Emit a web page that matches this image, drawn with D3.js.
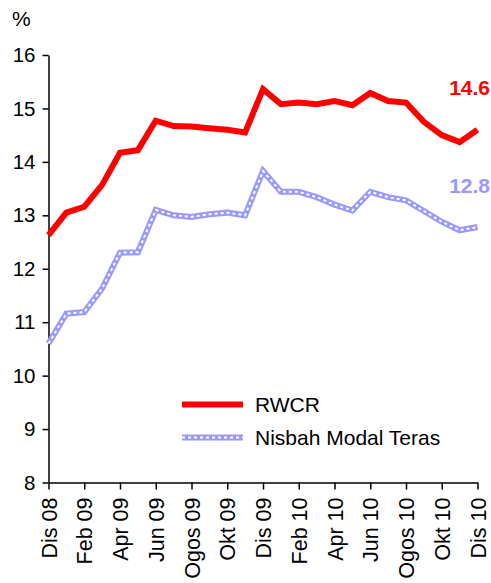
<!DOCTYPE html>
<html>
<head>
<meta charset="utf-8">
<script src="https://cdn.jsdelivr.net/npm/d3@7"></script>
<style>
  html, body { margin: 0; padding: 0; background: #fff; }
  svg { display: block; font-family: "Liberation Sans", Arial, sans-serif; }
</style>
</head>
<body>
<svg id="chart" width="491" height="583"></svg>
<script>
const months = ["Dis 08","Jan 09","Feb 09","Mac 09","Apr 09","Mei 09","Jun 09","Jul 09","Ogos 09","Sep 09","Okt 09","Nov 09",
                "Dis 09","Jan 10","Feb 10","Mac 10","Apr 10","Mei 10","Jun 10","Jul 10","Ogos 10","Sep 10","Okt 10","Nov 10","Dis 10"];
const rwcr = [12.63,13.05,13.16,13.57,14.17,14.22,14.77,14.67,14.66,14.63,14.60,14.55,
              15.36,15.08,15.11,15.08,15.14,15.06,15.29,15.14,15.11,14.75,14.50,14.37,14.60];
const core = [10.60,11.16,11.19,11.63,12.30,12.31,13.10,13.00,12.97,13.02,13.05,13.00,
              13.83,13.44,13.44,13.34,13.20,13.09,13.44,13.34,13.28,13.08,12.88,12.72,12.78];
const tickLabels = ["Dis 08","Feb 09","Apr 09","Jun 09","Ogos 09","Okt 09","Dis 09","Feb 10","Apr 10","Jun 10","Ogos 10","Okt 10","Dis 10"];
const yTicks = [8,9,10,11,12,13,14,15,16];
const seriesNames = ["RWCR","Nisbah Modal Teras"];
const endLabels = ["14.6","12.8"];

const RED = "#ff0000", LAV = "#9999ff";
const svg = d3.select("#chart");

const x = d3.scalePoint().domain(months).range([48.5, 477.5]);
const y = d3.scaleLinear().domain([8, 16]).range([482.5, 55]);

// axes
const yAxis = svg.append("g").attr("transform", "translate(48.5,0)")
  .call(d3.axisLeft(y).tickValues(yTicks).tickSize(6).tickSizeOuter(0).tickPadding(7));
yAxis.select(".domain").attr("stroke", "#000").attr("stroke-width", 1.5);
yAxis.selectAll(".tick line").attr("stroke", "#000").attr("stroke-width", 1.5);
yAxis.selectAll(".tick text").attr("font-size", "20.5px").attr("fill", "#000")
  .attr("font-family", "Liberation Sans, Arial, sans-serif");

const xAxis = svg.append("g").attr("transform", "translate(0,482.5)")
  .call(d3.axisBottom(x).tickValues(tickLabels).tickSize(7).tickSizeOuter(0));
xAxis.select(".domain").attr("stroke", "#000").attr("stroke-width", 1.5);
xAxis.selectAll(".tick line").attr("stroke", "#000").attr("stroke-width", 1.5);
xAxis.selectAll(".tick text")
  .attr("font-size", "21.5px").attr("fill", "#000")
  .attr("font-family", "Liberation Sans, Arial, sans-serif")
  .attr("transform", "rotate(-90)")
  .attr("text-anchor", "end")
  .attr("x", -15).attr("y", 0).attr("dy", "0.35em");

// "%" label
svg.append("text").attr("x", 12).attr("y", 26).attr("font-size", "21px").text("%");

// lines
const line = d3.line().x((d, i) => x(months[i])).y(d => y(d));

svg.append("path").datum(core).attr("d", line).attr("fill", "none")
  .attr("stroke", LAV).attr("stroke-width", 6).attr("stroke-linejoin", "miter");
svg.append("path").datum(core).attr("d", line).attr("fill", "none")
  .attr("stroke", "#fff").attr("stroke-width", 2).attr("stroke-dasharray", "3,3");

svg.append("path").datum(rwcr).attr("d", line).attr("fill", "none")
  .attr("stroke", RED).attr("stroke-width", 6).attr("stroke-linejoin", "miter");

// end labels
svg.append("text").attr("x", 490).attr("y", 95).attr("text-anchor", "end")
  .attr("font-size", "21px").attr("font-weight", "bold").attr("fill", RED).text(endLabels[0]);
svg.append("text").attr("x", 490).attr("y", 193).attr("text-anchor", "end")
  .attr("font-size", "21px").attr("font-weight", "bold").attr("fill", LAV).text(endLabels[1]);

// legend
const lg = svg.append("g");
lg.append("line").attr("x1", 182).attr("x2", 243).attr("y1", 404.5).attr("y2", 404.5)
  .attr("stroke", RED).attr("stroke-width", 6);
lg.append("line").attr("x1", 182).attr("x2", 243).attr("y1", 437.5).attr("y2", 437.5)
  .attr("stroke", LAV).attr("stroke-width", 6);
lg.append("line").attr("x1", 182).attr("x2", 243).attr("y1", 437.5).attr("y2", 437.5)
  .attr("stroke", "#fff").attr("stroke-width", 2).attr("stroke-dasharray", "3,3");
lg.append("text").attr("x", 255).attr("y", 412).attr("font-size", "21px").text(seriesNames[0]);
lg.append("text").attr("x", 255).attr("y", 445).attr("font-size", "21px").text(seriesNames[1]);
</script>
</body>
</html>
